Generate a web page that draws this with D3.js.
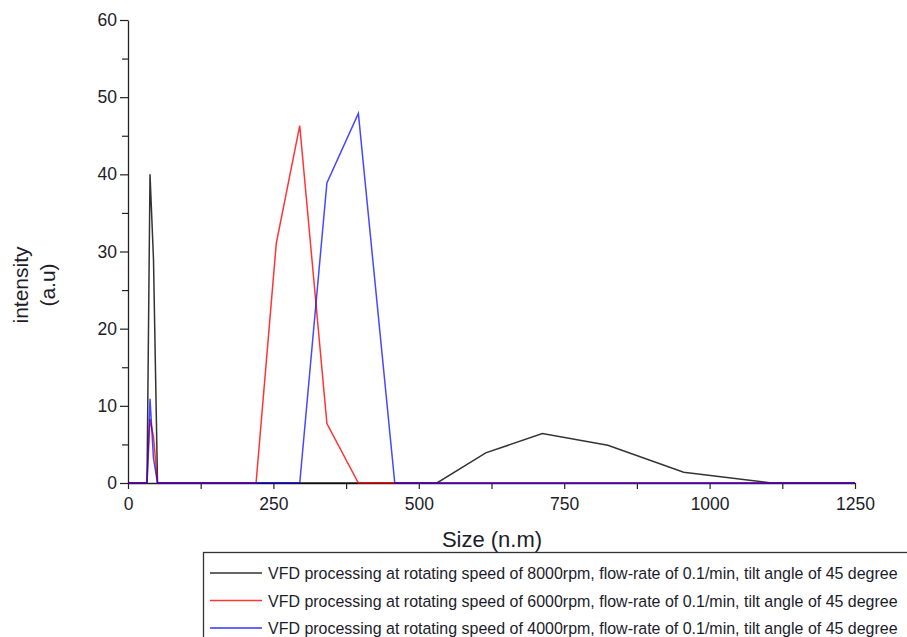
<!DOCTYPE html>
<html>
<head>
<meta charset="utf-8">
<script src="https://cdn.jsdelivr.net/npm/d3@7"></script>
<style>
  html, body { margin: 0; padding: 0; background: #fff; }
  svg { display: block; font-family: "Liberation Sans", Arial, sans-serif; }
</style>
</head>
<body>
<svg id="chart" width="907" height="637"></svg>
<script>
// Size bins (nm) of the particle-size distribution
const sizes = [0.4, 24.36, 28.21, 32.67, 37.84, 43.82, 50.75, 58.77, 190.1, 220.2, 255.0, 295.3, 342.0, 396.1, 458.7, 531.2, 615.1, 712.4, 825.0, 955.4, 1106, 1281];

// Intensity (a.u) per bin for each run
const rpm8000 = [0, 0, 0, 0, 40.0, 29.0, 0, 0, 0, 0, 0, 0, 0, 0, 0, 0, 3.9, 6.4, 4.9, 1.4, 0, 0];
const rpm6000 = [0, 0, 0, 0, 8.3, 6.0, 0, 0, 0, 0, 31.1, 46.3, 7.7, 0, 0, 0, 0, 0, 0, 0, 0, 0];
const rpm4000 = [0, 0, 0, 0, 10.9, 3.2, 0, 0, 0, 0, 0, 0, 38.9, 47.9, 0, 0, 0, 0, 0, 0, 0, 0];

const seriesNames = [
  "VFD processing at rotating speed of 8000rpm, flow-rate of 0.1/min, tilt angle of 45 degree",
  "VFD processing at rotating speed of 6000rpm, flow-rate of 0.1/min, tilt angle of 45 degree",
  "VFD processing at rotating speed of 4000rpm, flow-rate of 0.1/min, tilt angle of 45 degree"
];
const seriesColors = ["#000000", "#ff0000", "#0000ff"];

const xTicks = [0, 250, 500, 750, 1000, 1250];
const yTicks = [0, 10, 20, 30, 40, 50, 60];

const svg = d3.select("#chart");
const plotL = 128, plotR = 855, plotT = 20, plotB = 483;

const x = d3.scaleLinear().domain([0, 1250]).range([plotL, plotR]);
const y = d3.scaleLinear().domain([0, 60]).range([plotB, plotT]);

svg.append("defs").append("clipPath").attr("id", "plot")
  .append("rect").attr("x", plotL).attr("y", plotT - 2).attr("width", plotR - plotL).attr("height", plotB - plotT + 4);

const textColor = "#1c1c2a";
const axisColor = "#222";

// Axes: minor and major ticks
const xAxis = svg.append("g").attr("transform", `translate(0,${plotB})`);
xAxis.call(d3.axisBottom(x).tickValues(d3.range(0, 1251, 125)).tickSize(6).tickSizeOuter(0).tickFormat(""));
xAxis.selectAll(".domain").attr("stroke", axisColor).attr("stroke-width", 1.3);
xAxis.selectAll(".tick line").attr("stroke", axisColor).attr("stroke-width", 1.2);

const xLab = svg.append("g").attr("transform", `translate(0,${plotB})`);
xLab.call(d3.axisBottom(x).tickValues(xTicks).tickSize(0).tickPadding(15).tickFormat(d3.format("d")));
xLab.select(".domain").remove();
xLab.selectAll(".tick text").attr("font-size", "17.5px").attr("fill", textColor)
  .attr("font-family", "Liberation Sans, Arial, sans-serif");

const yAxis = svg.append("g").attr("transform", `translate(${plotL},0)`);
yAxis.call(d3.axisLeft(y).tickValues(d3.range(0, 61, 5)).tickSize(6).tickSizeOuter(0).tickFormat(""));
yAxis.selectAll(".domain").attr("stroke", axisColor).attr("stroke-width", 1.3);
yAxis.selectAll(".tick line").attr("stroke", axisColor).attr("stroke-width", 1.2)
  .attr("x2", d => d % 10 === 0 ? -8 : -6);

const yLab = svg.append("g").attr("transform", `translate(${plotL},0)`);
yLab.call(d3.axisLeft(y).tickValues(yTicks).tickSize(0).tickPadding(11).tickFormat(d3.format("d")));
yLab.select(".domain").remove();
yLab.selectAll(".tick text").attr("font-size", "17.5px").attr("fill", textColor)
  .attr("font-family", "Liberation Sans, Arial, sans-serif");

// Axis titles
svg.append("text").attr("x", 492).attr("y", 547).attr("text-anchor", "middle")
  .attr("font-size", "22px").attr("fill", textColor).text("Size (n.m)");
const yt = svg.append("text").attr("transform", "translate(28,285) rotate(-90)")
  .attr("text-anchor", "middle").attr("font-size", "21px").attr("fill", textColor);
yt.append("tspan").attr("x", 0).attr("dy", 0).text("intensity");
yt.append("tspan").attr("x", 0).attr("dy", 27).text("(a.u)");

// Series lines
const data = [rpm8000, rpm6000, rpm4000];
const line = d3.line().x((d, i) => x(sizes[i])).y(d => y(d));
const plot = svg.append("g").attr("clip-path", "url(#plot)");
data.forEach((vals, k) => {
  plot.append("path").datum(vals)
    .attr("fill", "none")
    .attr("stroke", seriesColors[k])
    .attr("stroke-width", 1.5)
    .attr("stroke-opacity", k === 2 ? 0.72 : 0.8)
    .attr("stroke-linejoin", "miter")
    .attr("d", line);
});

// Legend (box runs off the right edge of the page)
const lg = svg.append("g");
lg.append("rect").attr("x", 203.5).attr("y", 552.5).attr("width", 720).attr("height", 100)
  .attr("fill", "#fff").attr("stroke", "#333").attr("stroke-width", 1.3);
const legendTextWidth = 630;
seriesNames.forEach((name, k) => {
  const yy = 573 + k * 27.5;
  lg.append("line").attr("x1", 210).attr("x2", 262).attr("y1", yy).attr("y2", yy)
    .attr("stroke", seriesColors[k]).attr("stroke-width", 1.5).attr("stroke-opacity", 0.8);
  // narrow the label horizontally so it fits inside the page
  const t = lg.append("text").attr("x", 0).attr("y", 0).attr("font-size", "16.5px")
    .attr("fill", textColor).text(name);
  const w = t.node().getComputedTextLength();
  const sx = Math.min(1, legendTextWidth / w);
  t.attr("transform", `translate(268,${yy + 6}) scale(${sx},1)`);
});
</script>
</body>
</html>
